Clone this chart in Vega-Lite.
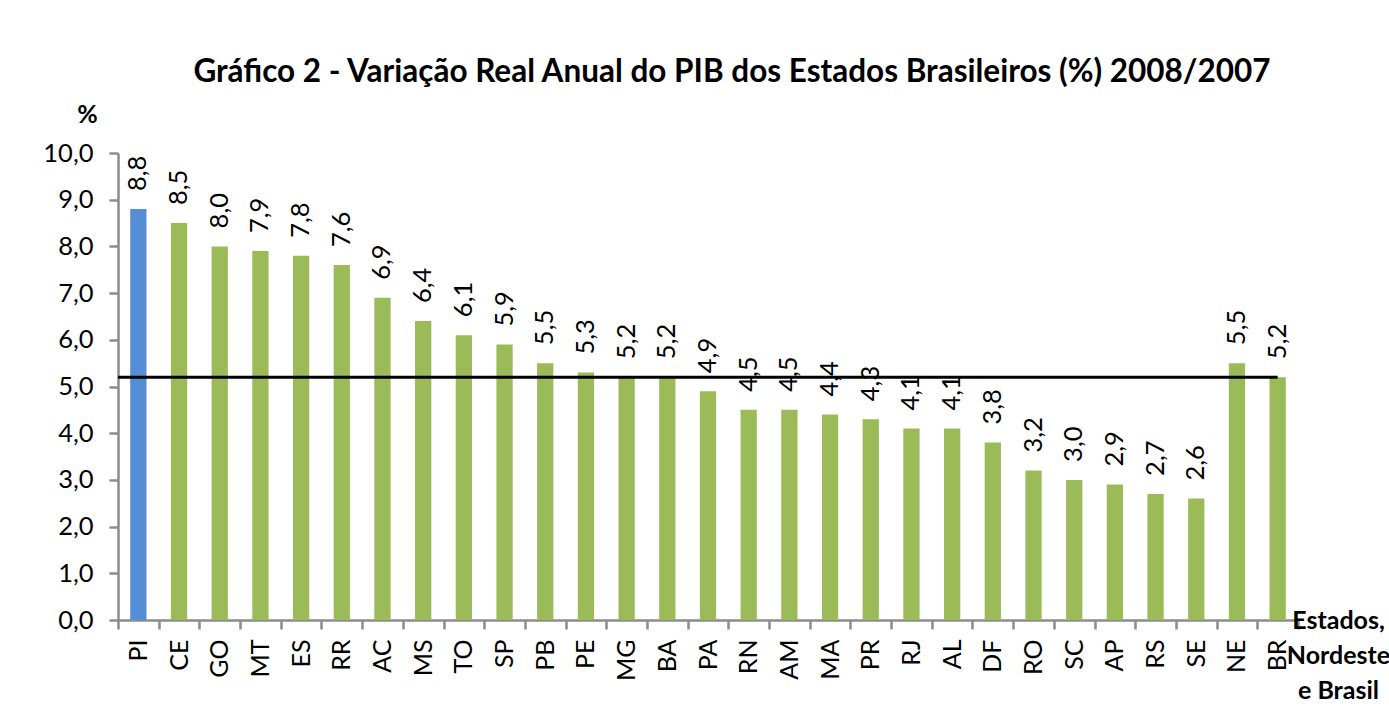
{
  "$schema": "https://vega.github.io/schema/vega-lite/v6.json",
  "width": 1180,
  "height": 467,
  "autosize": {"type": "none"},
  "padding": {"left": 118, "top": 153, "right": 91, "bottom": 87},
  "background": "white",
  "title": {
    "text": "Gráfico 2 - Variação Real Anual do PIB dos Estados Brasileiros (%) 2008/2007",
    "font": "Lato",
    "fontSize": 31.5,
    "fontWeight": "bold",
    "color": "black",
    "anchor": "middle",
    "dx": 24,
    "offset": 14
  },
  "data": {
    "values": [
      {"uf": "PI", "valor": 8.8, "grupo": "PI"},
      {"uf": "CE", "valor": 8.5, "grupo": "outros"},
      {"uf": "GO", "valor": 8.0, "grupo": "outros"},
      {"uf": "MT", "valor": 7.9, "grupo": "outros"},
      {"uf": "ES", "valor": 7.8, "grupo": "outros"},
      {"uf": "RR", "valor": 7.6, "grupo": "outros"},
      {"uf": "AC", "valor": 6.9, "grupo": "outros"},
      {"uf": "MS", "valor": 6.4, "grupo": "outros"},
      {"uf": "TO", "valor": 6.1, "grupo": "outros"},
      {"uf": "SP", "valor": 5.9, "grupo": "outros"},
      {"uf": "PB", "valor": 5.5, "grupo": "outros"},
      {"uf": "PE", "valor": 5.3, "grupo": "outros"},
      {"uf": "MG", "valor": 5.2, "grupo": "outros"},
      {"uf": "BA", "valor": 5.2, "grupo": "outros"},
      {"uf": "PA", "valor": 4.9, "grupo": "outros"},
      {"uf": "RN", "valor": 4.5, "grupo": "outros"},
      {"uf": "AM", "valor": 4.5, "grupo": "outros"},
      {"uf": "MA", "valor": 4.4, "grupo": "outros"},
      {"uf": "PR", "valor": 4.3, "grupo": "outros"},
      {"uf": "RJ", "valor": 4.1, "grupo": "outros"},
      {"uf": "AL", "valor": 4.1, "grupo": "outros"},
      {"uf": "DF", "valor": 3.8, "grupo": "outros"},
      {"uf": "RO", "valor": 3.2, "grupo": "outros"},
      {"uf": "SC", "valor": 3.0, "grupo": "outros"},
      {"uf": "AP", "valor": 2.9, "grupo": "outros"},
      {"uf": "RS", "valor": 2.7, "grupo": "outros"},
      {"uf": "SE", "valor": 2.6, "grupo": "outros"},
      {"uf": "NE", "valor": 5.5, "grupo": "outros"},
      {"uf": "BR", "valor": 5.2, "grupo": "outros"}
    ]
  },
  "encoding": {
    "x": {
      "field": "uf",
      "type": "nominal",
      "sort": null,
      "scale": {"paddingInner": 0, "paddingOuter": 0},
      "axis": {
        "title": ["Estados,", "Nordeste", "e Brasil"],
        "titleFont": "Lato",
        "titleFontSize": 25,
        "titleFontWeight": "bold",
        "titleColor": "black",
        "titleAlign": "center",
        "titleBaseline": "alphabetic",
        "titleAngle": 0,
        "titleX": 1220,
        "titleY": 8,
        "titleLineHeight": 35,
        "labelAngle": 270,
        "labelAlign": "right",
        "labelBaseline": "middle",
        "labelFont": "Lato",
        "labelFontSize": 25,
        "labelColor": "black",
        "labelPadding": 10,
        "tickBand": "extent",
        "tickSize": 9,
        "tickWidth": 2.5,
        "tickColor": "#8c8c8c",
        "domainColor": "#8c8c8c",
        "domainWidth": 2.5,
        "grid": false
      }
    },
    "y": {
      "field": "valor",
      "type": "quantitative",
      "scale": {"domain": [0, 10], "nice": false},
      "axis": {
        "values": [0, 1, 2, 3, 4, 5, 6, 7, 8, 9, 10],
        "format": ".1f",
        "title": "%",
        "titleFont": "Lato",
        "titleFontSize": 25,
        "titleFontWeight": "bold",
        "titleColor": "black",
        "titleAngle": 0,
        "titleAlign": "center",
        "titleBaseline": "alphabetic",
        "titleX": -31,
        "titleY": -31,
        "labelFont": "Lato",
        "labelFontSize": 25.5,
        "labelColor": "black",
        "labelPadding": 16,
        "tickSize": 9,
        "tickWidth": 2.5,
        "tickColor": "#8c8c8c",
        "domainColor": "#8c8c8c",
        "domainWidth": 2.5,
        "grid": false
      }
    }
  },
  "layer": [
    {
      "mark": {"type": "bar", "width": {"band": 0.4}},
      "encoding": {
        "color": {
          "field": "grupo",
          "type": "nominal",
          "scale": {"domain": ["PI", "outros"], "range": ["#558ed5", "#9bbb59"]},
          "legend": null
        }
      }
    },
    {
      "mark": {
        "type": "text",
        "angle": 270,
        "align": "left",
        "baseline": "middle",
        "dx": 18,
        "font": "Lato",
        "fontSize": 25.5,
        "color": "black"
      },
      "encoding": {
        "text": {"field": "valor", "type": "quantitative", "format": ".1f"}
      }
    },
    {
      "transform": [{"filter": "datum.uf === 'PI'"}],
      "mark": {"type": "rule", "color": "black", "strokeWidth": 3},
      "encoding": {
        "x": {"field": "uf", "type": "nominal", "sort": null, "bandPosition": 0},
        "x2": {"datum": "BR"},
        "y": {"datum": 5.2}
      }
    }
  ],
  "config": {
    "locale": {
      "number": {"decimal": ",", "thousands": ".", "grouping": [3], "currency": ["R$", ""]}
    },
    "view": {"stroke": null}
  }
}
